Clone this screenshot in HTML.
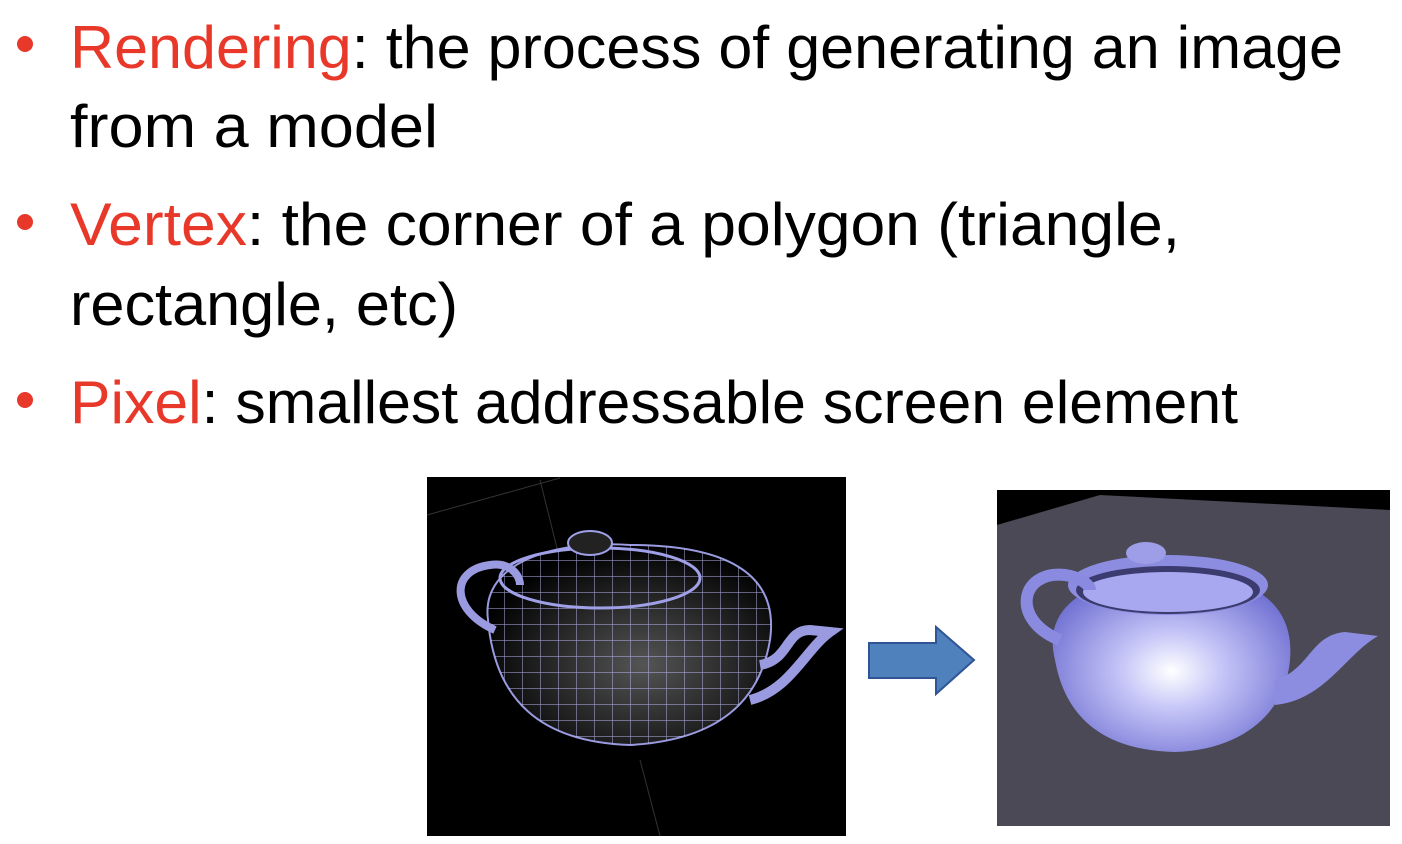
<!DOCTYPE html>
<html><head><meta charset="utf-8"><style>
html,body{margin:0;padding:0;background:#fff;}
svg{display:block}
</style></head><body>
<svg width="1402" height="844" viewBox="0 0 1402 844" xmlns="http://www.w3.org/2000/svg">
<defs>
<pattern id="grid" width="18" height="16" patternUnits="userSpaceOnUse">
<path d="M0 0H18M0 0V16" stroke="#b8b8f0" stroke-width="1.2" fill="none"/>
</pattern>
<radialGradient id="tp" cx="0.5" cy="0.55" r="0.6">
<stop offset="0" stop-color="#ffffff"/><stop offset="0.35" stop-color="#c6c6f8"/><stop offset="1" stop-color="#6a6ad0"/>
</radialGradient>
<radialGradient id="wf" cx="0.55" cy="0.6" r="0.6">
<stop offset="0" stop-color="#555" /><stop offset="1" stop-color="#000"/>
</radialGradient>
<clipPath id="body1"><path d="M488 620 C480 560 560 540 630 545 C720 545 780 570 770 640 C760 700 720 740 630 745 C540 742 495 700 488 620Z"/></clipPath>
</defs>
<g font-family="'Liberation Sans', sans-serif" font-size="60">
<circle cx="25" cy="44" r="8" fill="#e8382a"/>
<circle cx="25" cy="222" r="8" fill="#e8382a"/>
<circle cx="25" cy="400" r="8" fill="#e8382a"/>
<text x="70" y="68" textLength="1273" lengthAdjust="spacingAndGlyphs"><tspan fill="#e8382a">Rendering</tspan><tspan fill="#000">: the process of generating an image</tspan></text>
<text x="70" y="147" textLength="368" lengthAdjust="spacingAndGlyphs" fill="#000">from a model</text>
<text x="70" y="245" textLength="1110" lengthAdjust="spacingAndGlyphs"><tspan fill="#e8382a">Vertex</tspan><tspan fill="#000">: the corner of a polygon (triangle,</tspan></text>
<text x="70" y="325" textLength="388" lengthAdjust="spacingAndGlyphs" fill="#000">rectangle, etc)</text>
<text x="70" y="423" textLength="1168" lengthAdjust="spacingAndGlyphs"><tspan fill="#e8382a">Pixel</tspan><tspan fill="#000">: smallest addressable screen element</tspan></text>
</g>
<!-- left image -->
<rect x="427" y="477" width="419" height="359" fill="#000"/>
<line x1="427" y1="515" x2="560" y2="478" stroke="#333" />
<line x1="540" y1="480" x2="560" y2="560" stroke="#333"/>
<line x1="640" y1="760" x2="660" y2="836" stroke="#333"/>
<path d="M488 620 C480 560 560 540 630 545 C720 545 780 570 770 640 C760 700 720 740 630 745 C540 742 495 700 488 620Z" fill="url(#wf)" stroke="#9a9ae0" stroke-width="2"/>
<rect x="480" y="540" width="300" height="210" fill="url(#grid)" clip-path="url(#body1)" opacity="0.8"/>
<ellipse cx="600" cy="578" rx="100" ry="30" fill="none" stroke="#a0a0e8" stroke-width="3"/>
<ellipse cx="590" cy="543" rx="22" ry="12" fill="#222" stroke="#a0a0e8" stroke-width="2"/>
<path d="M495 630 C450 610 450 570 490 565 C510 562 520 575 520 585" fill="none" stroke="#9a9ae0" stroke-width="8"/>
<path d="M760 665 C790 660 785 630 810 630 L830 632 C805 650 790 690 750 700" fill="none" stroke="#9a9ae0" stroke-width="10"/>
<!-- arrow -->
<path d="M869 643 H936 V627 L974 660 L936 694 V678 H869 Z" fill="#4f81bd" stroke="#2f5597" stroke-width="2"/>
<!-- right image -->
<rect x="997" y="490" width="393" height="336" fill="#4a4955"/>
<path d="M997 490 H1390 V510 L1100 495 L997 525 Z" fill="#000"/>
<path d="M1055 660 C1040 600 1100 575 1175 572 C1250 575 1295 600 1290 660 C1285 715 1240 750 1175 752 C1100 750 1065 715 1055 660Z" fill="url(#tp)"/>
<ellipse cx="1168" cy="585" rx="100" ry="30" fill="#8c8ce0"/>
<ellipse cx="1168" cy="590" rx="92" ry="24" fill="#3b3b70"/>
<ellipse cx="1168" cy="592" rx="85" ry="20" fill="#a8a8f0"/>
<ellipse cx="1146" cy="553" rx="20" ry="11" fill="#9d9de8"/>
<path d="M1060 640 C1010 620 1020 570 1065 575 C1080 577 1090 585 1090 590" fill="none" stroke="#8a8ae0" stroke-width="12"/>
<path d="M1275 680 C1310 670 1310 635 1345 632 L1378 636 C1345 655 1325 700 1275 705 Z" fill="#8c8ce0"/>
</svg>
</body></html>
